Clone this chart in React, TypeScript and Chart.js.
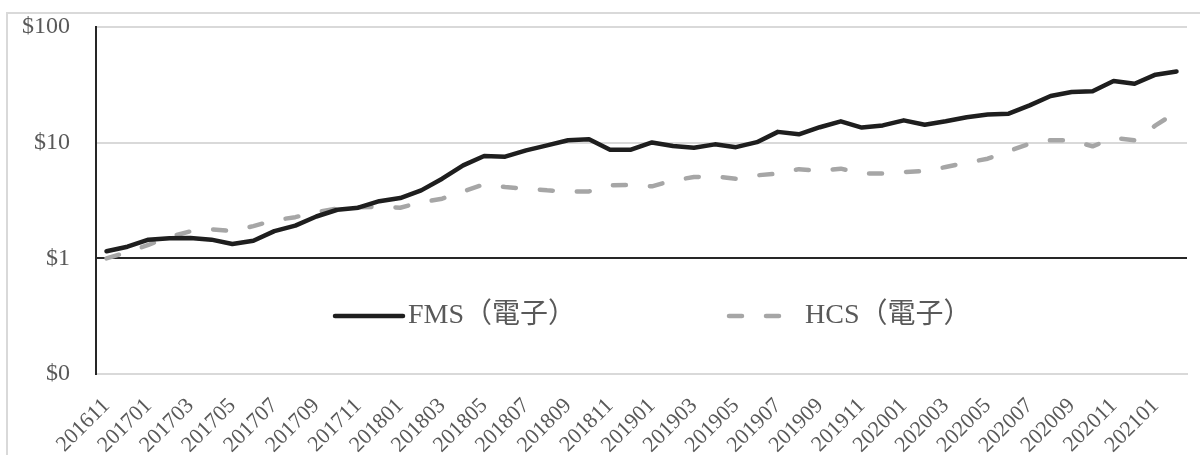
import React, { useEffect, useRef } from "react";
import { Chart, registerables } from "chart.js";

Chart.register(...registerables);

// Monthly periods, 201611 .. 202102
const months: string[] = [
  "201611", "201612",
  "201701", "201702", "201703", "201704", "201705", "201706", "201707", "201708", "201709", "201710", "201711", "201712",
  "201801", "201802", "201803", "201804", "201805", "201806", "201807", "201808", "201809", "201810", "201811", "201812",
  "201901", "201902", "201903", "201904", "201905", "201906", "201907", "201908", "201909", "201910", "201911", "201912",
  "202001", "202002", "202003", "202004", "202005", "202006", "202007", "202008", "202009", "202010", "202011", "202012",
  "202101", "202102",
];

// Growth of $1, FMS portfolio (electronics)
const fmsValues: number[] = [
  1.15, 1.26, 1.45, 1.49, 1.5, 1.45, 1.33, 1.42, 1.72, 1.92, 2.3, 2.63, 2.74, 3.12, 3.32, 3.87,
  4.88, 6.36, 7.66, 7.57, 8.58, 9.47, 10.5, 10.7, 8.7, 8.7, 10.05, 9.35, 9.05, 9.67, 9.14, 10.1,
  12.4, 11.8, 13.6, 15.3, 13.5, 14.1, 15.6, 14.3, 15.3, 16.6, 17.5, 17.8, 21, 25.3, 27.4, 27.8,
  34.1, 32.3, 38.7, 41.3,
];

// Growth of $1, HCS portfolio (electronics)
const hcsValues: number[] = [
  1.0, 1.13, 1.31, 1.53, 1.71, 1.78, 1.72, 1.9, 2.13, 2.27, 2.51, 2.69, 2.76, 2.8, 2.74, 3.05,
  3.28, 3.79, 4.36, 4.13, 4.0, 3.87, 3.79, 3.79, 4.28, 4.3, 4.19, 4.72, 5.04, 5.11, 4.88, 5.22,
  5.4, 5.9, 5.69, 5.96, 5.4, 5.4, 5.57, 5.69, 6.15, 6.71, 7.27, 8.46, 9.8, 10.5, 10.5, 9.29,
  11.0, 10.5, 14.1, 18.4,
];

const seriesNames: string[] = ["FMS（電子）", "HCS（電子）"];
const yTickValues: number[] = [0.1, 1, 10, 100];
const yTickLabels: string[] = ["$0", "$1", "$10", "$100"];

const SERIF = "'Liberation Serif', 'Times New Roman', 'Noto Sans CJK TC', serif";
const TEXT_GRAY = "#595959";

// Outer frame of the chart
const framePlugin = {
  id: "frame",
  beforeDraw(chart: any) {
    const { ctx } = chart;
    ctx.save();
    ctx.fillStyle = "#ffffff";
    ctx.fillRect(0, 0, chart.width, chart.height);
    ctx.strokeStyle = "#d9d9d9";
    ctx.lineWidth = 2;
    ctx.strokeRect(7, 13, chart.width + 50, chart.height + 50);
    ctx.restore();
  },
};

// Legend drawn inside the plot area
const innerLegendPlugin = {
  id: "innerLegend",
  afterDatasetsDraw(chart: any, _args: any, opts: any) {
    const { ctx, chartArea } = chart;
    const y = chartArea.top + opts.offsetY;
    ctx.save();
    chart.data.datasets.forEach((ds: any, i: number) => {
      const item = opts.items[i];
      const x0 = chartArea.left + item.sampleX;
      ctx.beginPath();
      ctx.strokeStyle = ds.borderColor;
      ctx.lineWidth = ds.borderWidth;
      ctx.lineCap = "round";
      ctx.setLineDash(ds.borderDash || []);
      ctx.moveTo(x0, y);
      ctx.lineTo(x0 + item.sampleLen, y);
      ctx.stroke();
      ctx.setLineDash([]);
      ctx.fillStyle = TEXT_GRAY;
      ctx.font = `28px ${SERIF}`;
      ctx.textBaseline = "middle";
      ctx.textAlign = "left";
      ctx.fillText(ds.label, chartArea.left + item.textX, y);
    });
    ctx.restore();
  },
};

// Keep the plot area fixed: axis label overflow must not shrink it
const clearScalePadding = (scale: any) => {
  scale.paddingTop = 0;
  scale.paddingBottom = 0;
  scale.paddingLeft = 0;
  scale.paddingRight = 0;
};

export default function App() {
  const canvasRef = useRef<HTMLCanvasElement | null>(null);

  useEffect(() => {
    if (!canvasRef.current) return;
    const chart = new Chart(canvasRef.current, {
      type: "line",
      data: {
        labels: months,
        datasets: [
          {
            label: seriesNames[0],
            data: fmsValues,
            borderColor: "#1e1e1e",
            borderWidth: 4.5,
            borderCapStyle: "round",
            borderJoinStyle: "round",
            pointRadius: 0,
            tension: 0,
            fill: false,
          },
          {
            label: seriesNames[1],
            data: hcsValues,
            borderColor: "#a6a6a6",
            borderWidth: 4.5,
            borderDash: [13, 24],
            borderCapStyle: "round",
            borderJoinStyle: "round",
            pointRadius: 0,
            tension: 0,
            fill: false,
          },
        ],
      },
      options: {
        animation: false,
        responsive: true,
        maintainAspectRatio: false,
        layout: { padding: { top: 27, right: 13, left: 0, bottom: 0 } },
        plugins: {
          legend: { display: false },
          tooltip: { enabled: false },
          innerLegend: {
            offsetY: 289,
            items: [
              { sampleX: 239, sampleLen: 68, textX: 312 },
              { sampleX: 633, sampleLen: 50, textX: 709 },
            ],
          },
        } as any,
        scales: {
          x: {
            offset: true,
            grid: { display: false, drawTicks: false },
            border: { display: true, color: "#d9d9d9", width: 2 },
            ticks: {
              autoSkip: false,
              minRotation: 45,
              maxRotation: 45,
              padding: 19,
              color: TEXT_GRAY,
              font: { family: SERIF, size: 22 },
              callback: (_v: any, i: number) => (i % 2 === 0 ? months[i] : ""),
            },
            afterFit: (scale: any) => {
              scale.height = 81;
              clearScalePadding(scale);
            },
          },
          y: {
            type: "logarithmic",
            min: 0.1,
            max: 100,
            afterBuildTicks: (scale: any) => {
              scale.ticks = yTickValues.map((v) => ({ value: v }));
            },
            afterFit: (scale: any) => {
              scale.width = 96;
              clearScalePadding(scale);
            },
            grid: {
              drawTicks: false,
              lineWidth: 2,
              color: (ctx: any) => (ctx.tick && ctx.tick.value === 1 ? "#262626" : "#d9d9d9"),
            },
            border: { display: true, color: "#262626", width: 2 },
            ticks: {
              padding: 26,
              color: TEXT_GRAY,
              font: { family: SERIF, size: 24 },
              callback: (v: any) => {
                const idx = yTickValues.indexOf(Number(v));
                return idx >= 0 ? yTickLabels[idx] : "";
              },
            },
          },
        },
      },
      plugins: [framePlugin, innerLegendPlugin],
    } as any);
    return () => chart.destroy();
  }, []);

  return (
    <div style={{ position: "fixed", left: 0, top: 0, width: 1200, height: 455 }}>
      <canvas ref={canvasRef} />
    </div>
  );
}
